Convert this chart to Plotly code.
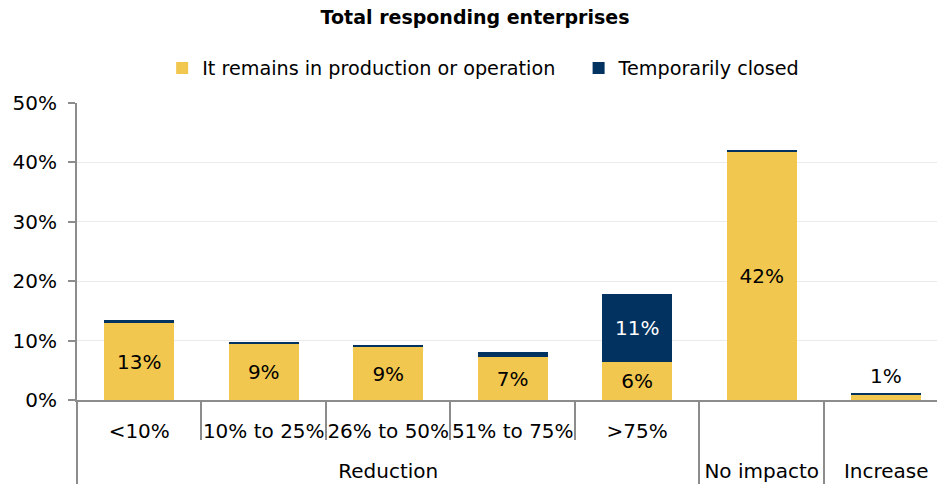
import plotly.graph_objects as go

# Impact groups (outer level) and ranges (inner level)
groups = ["Reduction", "Reduction", "Reduction", "Reduction", "Reduction", "No impacto", "Increase"]
ranges = ["<10%", "10% to 25%", "26% to 50%", "51% to 75%", ">75%", "", " "]

# Share of responding enterprises (%)
operating = [12.9, 9.4, 8.9, 7.2, 6.4, 41.8, 0.8]
closed = [0.6, 0.4, 0.35, 0.8, 11.4, 0.25, 0.35]

YELLOW = "#F2C74F"
NAVY = "#02325F"
AXIS = "#8C8C8C"
FONT = "DejaVu Sans"
NBSP = "\u00a0"


def label(v, show):
    return f"{round(v):.0f}%" if show else ""


op_text = [label(v, v >= 2) for v in operating]
cl_text = [label(v, v >= 2) for v in closed]

# Outer group labels sit one line lower, below the range labels
outer = ["<br>" + g for g in groups]

fig = go.Figure()
fig.add_trace(go.Bar(
    x=[outer, ranges], y=operating,
    name="It remains in production or operation" + NBSP * 3,
    marker=dict(color=YELLOW, line=dict(width=0)),
    text=op_text, textposition="inside", insidetextanchor="middle",
    textfont=dict(color="black", size=20, family=FONT), constraintext="none",
    hoverinfo="skip",
))
fig.add_trace(go.Bar(
    x=[outer, ranges], y=closed, name="Temporarily closed",
    marker=dict(color=NAVY, line=dict(width=0)),
    text=cl_text, textposition="inside", insidetextanchor="middle",
    textfont=dict(color="white", size=20, family=FONT), constraintext="none",
    hoverinfo="skip",
))

# Small bars carry their label above the stack
for g, r, o, c in zip(outer, ranges, operating, closed):
    if o < 2:
        fig.add_annotation(x=[g, r], y=o + c, text=f"{round(o):.0f}%", showarrow=False,
                           yanchor="bottom", yshift=3,
                           font=dict(size=20, color="black", family=FONT))

fig.update_layout(
    width=937, height=485,
    margin=dict(l=77, r=0, t=103, b=85),
    paper_bgcolor="white", plot_bgcolor="white",
    barmode="stack", bargap=0.44,
    font=dict(family=FONT, size=20, color="black"),
    title=dict(text="<b>Total responding enterprises</b>", x=0.507, xanchor="center",
               y=0.965, yanchor="middle", font=dict(size=19, family=FONT)),
    legend=dict(orientation="h", x=0.099, xanchor="left", y=1.118, yanchor="middle",
                font=dict(size=19.2), traceorder="normal", itemwidth=30),
    showlegend=True,
)
fig.update_yaxes(
    range=[0, 50], dtick=10, ticksuffix="%", showgrid=True, gridcolor="#EBEBEB", gridwidth=1,
    showline=True, linecolor=AXIS, linewidth=2, ticks="outside", ticklen=7, tickcolor=AXIS,
    tickwidth=2, tickfont=dict(size=20), zeroline=False, ticklabelstandoff=7,
    automargin=False,
)
fig.update_xaxes(
    type="multicategory", range=[-0.5, 6.408], tickangle=0,
    showline=True, linecolor=AXIS, linewidth=2,
    ticks="outside", tickson="boundaries", ticklen=38, tickcolor=AXIS, tickwidth=2,
    showdividers=True, dividercolor=AXIS, dividerwidth=2,
    tickfont=dict(size=20), automargin=False, ticklabelstandoff=12,
)

fig.write_html("out.html")
